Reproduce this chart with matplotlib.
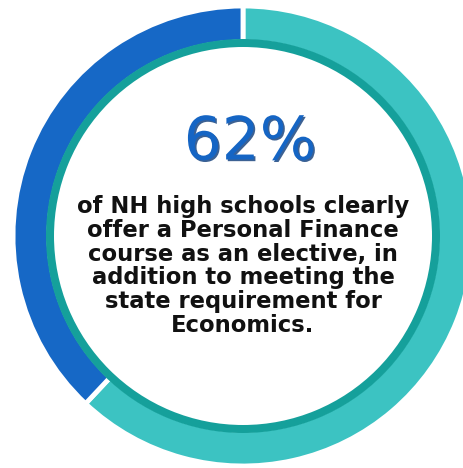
import matplotlib
matplotlib.use("Agg")
import matplotlib.pyplot as plt
import matplotlib.patheffects as pe
from matplotlib.patches import Wedge

# Share of schools offering the elective vs. the rest
labels = ["Offer elective", "Other"]
shares = [62, 38]
colors = ["#3cc3c2", "#1668c6"]

headline = "62%"
body_lines = [
    "of NH high schools clearly",
    "offer a Personal Finance",
    "course as an elective, in",
    "addition to meeting the",
    "state requirement for",
    "Economics.",
]

W, H = 464, 468
fig = plt.figure(figsize=(W / 100, H / 100), dpi=100, facecolor="white")
ax = fig.add_axes([0, 0, 1, 1])

cx, cy = 243, H - 236
r_out = 230
ring_w = 36

ax.pie(shares, colors=colors, startangle=90, counterclock=False,
       radius=r_out, center=(cx, cy),
       wedgeprops=dict(width=ring_w, edgecolor="white", linewidth=3.5))

# thin darker band along the inside of the ring
inner = Wedge((cx, cy), 197, 0, 360, width=8,
              facecolor="#15a09b", edgecolor="none")
ax.add_patch(inner)

ax.set_xlim(0, W)
ax.set_ylim(0, H)
ax.set_aspect("equal")
ax.axis("off")

ax.text(250, H - 143, headline, ha="center", va="center",
        fontsize=43, color="#1565c4", family="DejaVu Sans",
        path_effects=[pe.withSimplePatchShadow(offset=(1.2, -1.2),
                                               shadow_rgbFace="#0b3a78",
                                               alpha=0.8)])

y0 = H - 207
step = 23.6
for i, line in enumerate(body_lines):
    ax.text(cx, y0 - i * step, line, ha="center", va="center",
            fontsize=16.3, fontweight="bold", color="#111111",
            family="DejaVu Sans")

fig.savefig("out.png", dpi=100, facecolor="white")
